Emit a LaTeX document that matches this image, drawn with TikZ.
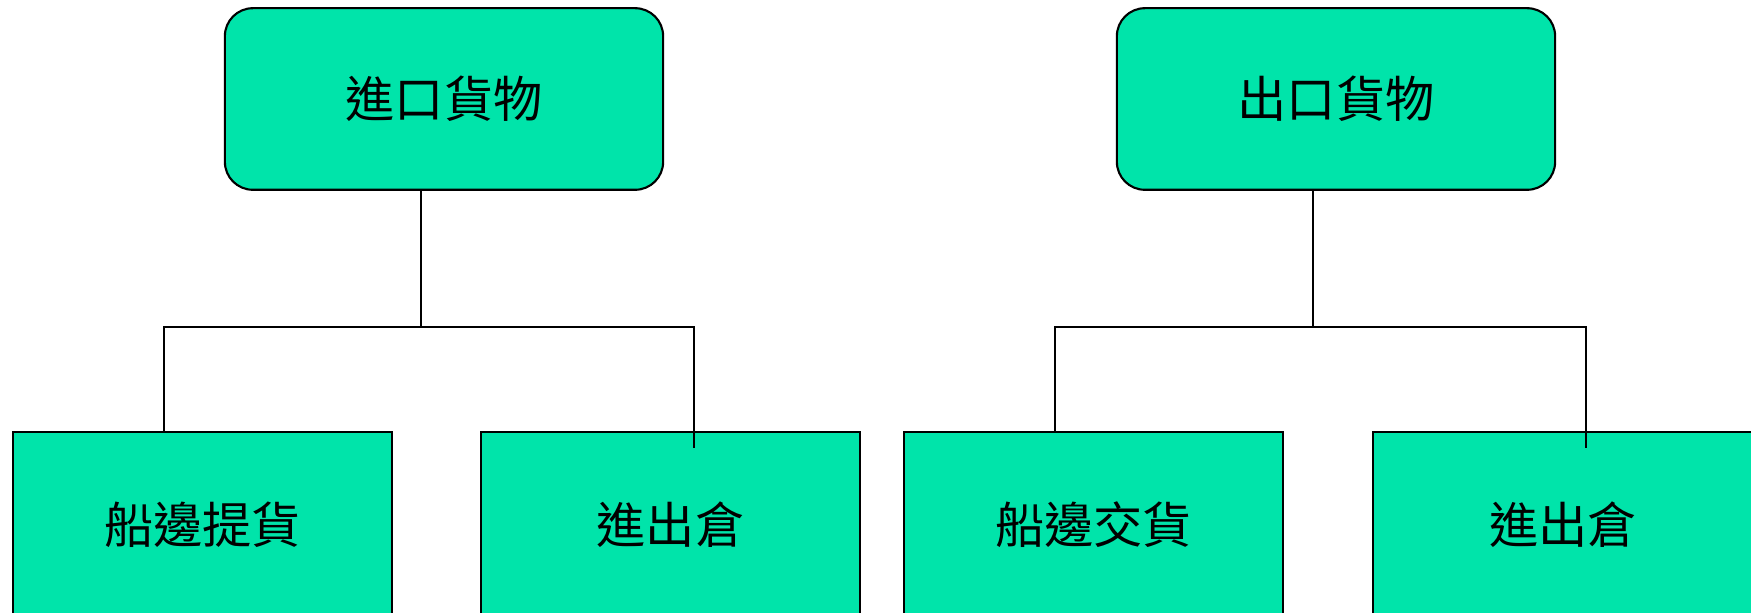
\documentclass[tikz,border=0pt]{standalone}
\usepackage{fontspec}
\newfontfamily\cjk{Noto Sans CJK TC}
\definecolor{boxgreen}{RGB}{0,228,170}
\tikzset{
  topbox/.style={draw=black, line width=0.6pt, fill=boxgreen, rounded corners=0.28cm,
    minimum width=4.38cm, minimum height=1.815cm, inner sep=0pt,
    font=\cjk\fontsize{14pt}{16pt}\selectfont},
  botbox/.style={draw=black, line width=0.6pt, fill=boxgreen,
    minimum width=3.79cm, minimum height=1.86cm, inner sep=0pt,
    font=\cjk\fontsize{14pt}{16pt}\selectfont},
  conn/.style={draw=black, line width=0.6pt}
}
\begin{document}
\begin{tikzpicture}[x=0.01cm, y=-0.01cm]
\useasboundingbox (0,0) rectangle (1751,613);
\clip (0,0) rectangle (1751,613);
% top boxes
\node[topbox] (top1) at (444,99) {\raisebox{-1.2pt}{進口貨物}};
\node[topbox] (top2) at (1336,99) {\raisebox{-1.2pt}{出口貨物}};
% bottom boxes
\node[botbox] (b1) at (202.5,525) {船邊提貨};
\node[botbox] (b2) at (670.5,525) {進出倉};
\node[botbox] (b3) at (1093.5,525) {船邊交貨};
\node[botbox] (b4) at (1563,525) {進出倉};
% junction coordinates
\coordinate (v1) at (421,327);
\coordinate (hL1) at (164,327);
\coordinate (hR1) at (694,327);
\coordinate (e1) at (694,448);
\coordinate (v2) at (1313,327);
\coordinate (hL2) at (1055,327);
\coordinate (hR2) at (1586,327);
\coordinate (e2) at (1586,448);
% connectors
\draw[conn] (top1.south -| v1) -- (v1);
\draw[conn] (hL1 |- b1.north) -- (hL1) -- (hR1) -- (e1);
\draw[conn] (top2.south -| v2) -- (v2);
\draw[conn] (hL2 |- b3.north) -- (hL2) -- (hR2) -- (e2);
\end{tikzpicture}
\end{document}
